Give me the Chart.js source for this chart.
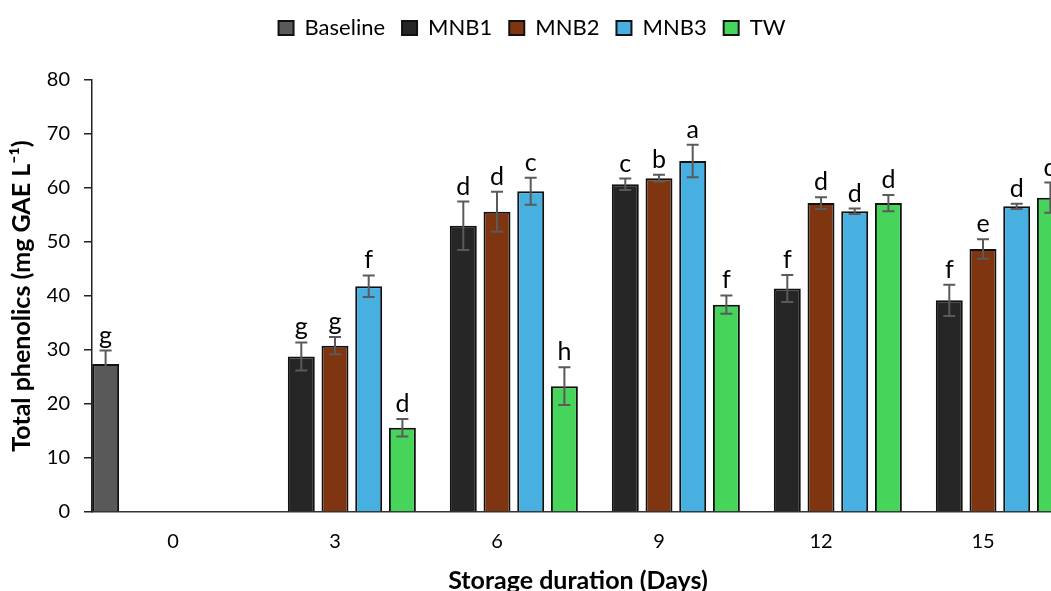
<!DOCTYPE html>
<html>
<head>
<meta charset="utf-8">
<script src="https://cdn.jsdelivr.net/npm/chart.js@4"></script>
<style>
  html, body { margin: 0; padding: 0; background: #fff; overflow: hidden; }
  #wrap { width: 1068px; height: 591px; }
</style>
</head>
<body>
<div id="wrap"><canvas id="phenolics"></canvas></div>
<script>
// Storage days
const days = ['0', '3', '6', '9', '12', '15'];

// Means (mg GAE L-1)
const baseline = [27.4, null, null, null, null, null];
const mnb1 = [null, 28.8, 53.0, 60.7, 41.4, 39.2];
const mnb2 = [null, 30.8, 55.6, 61.8, 57.2, 48.7];
const mnb3 = [null, 41.8, 59.4, 65.0, 55.7, 56.6];
const tw = [null, 15.6, 23.3, 38.4, 57.2, 58.2];

// Standard deviations
const baselineSd = [2.5, null, null, null, null, null];
const mnb1Sd = [null, 2.6, 4.5, 1.05, 2.5, 2.9];
const mnb2Sd = [null, 1.6, 3.7, 0.65, 1.1, 1.8];
const mnb3Sd = [null, 2.0, 2.5, 3.0, 0.5, 0.5];
const twSd = [null, 1.6, 3.5, 1.7, 1.5, 2.8];

// Significance letters
const baselineSig = ['g', null, null, null, null, null];
const mnb1Sig = [null, 'g', 'd', 'c', 'f', 'f'];
const mnb2Sig = [null, 'g', 'd', 'b', 'd', 'e'];
const mnb3Sig = [null, 'f', 'c', 'a', 'd', 'd'];
const twSig = [null, 'd', 'h', 'f', 'd', 'd'];

const yTicks = [0, 10, 20, 30, 40, 50, 60, 70, 80];

function series(label, data, sd, sig, color) {
  return {
    label: label,
    data: data,
    sd: sd,
    sig: sig,
    backgroundColor: color,
    borderColor: '#111',
    borderWidth: 2,
    barPercentage: 0.8,
    categoryPercentage: 1.04
  };
}

// extra room between legend and plot
const legendGap = {
  id: 'legendGap',
  beforeInit(chart) {
    const fit = chart.legend.fit;
    chart.legend.fit = function () {
      fit.bind(chart.legend)();
      this.height += 31;
    };
  }
};

// error bars + letters on top of each bar
const errorBars = {
  id: 'errorBars',
  afterDatasetsDraw(chart) {
    const ctx = chart.ctx;
    const y = chart.scales.y;
    ctx.save();
    chart.data.datasets.forEach((ds, i) => {
      const meta = chart.getDatasetMeta(i);
      meta.data.forEach((bar, j) => {
        const v = ds.data[j];
        if (v == null) return;
        const sd = ds.sd[j] || 0;
        const top = y.getPixelForValue(v + sd);
        const bot = y.getPixelForValue(v - sd);
        ctx.strokeStyle = '#5a5a5a';
        ctx.lineWidth = 2;
        ctx.beginPath();
        ctx.moveTo(bar.x, top); ctx.lineTo(bar.x, bot);
        ctx.moveTo(bar.x - 6, top); ctx.lineTo(bar.x + 6, top);
        ctx.moveTo(bar.x - 6, bot); ctx.lineTo(bar.x + 6, bot);
        ctx.stroke();
        if (ds.sig[j]) {
          ctx.fillStyle = '#000';
          ctx.font = '25px Lato';
          ctx.textAlign = 'center';
          ctx.textBaseline = 'alphabetic';
          ctx.fillText(ds.sig[j], bar.x, top - 7);
        }
      });
    });
    ctx.restore();
  }
};

new Chart(document.getElementById('phenolics'), {
  type: 'bar',
  data: {
    labels: days,
    datasets: [
      series('Baseline', baseline, baselineSd, baselineSig, '#595959'),
      series('MNB1', mnb1, mnb1Sd, mnb1Sig, '#262626'),
      series('MNB2', mnb2, mnb2Sd, mnb2Sig, '#7f3510'),
      series('MNB3', mnb3, mnb3Sd, mnb3Sig, '#47b0e0'),
      series('TW', tw, twSd, twSig, '#46d45b')
    ]
  },
  options: {
    responsive: true,
    maintainAspectRatio: false,
    animation: false,
    layout: { padding: { top: 0, right: 4, left: 0, bottom: -5 } },
    plugins: {
      legend: {
        position: 'top',
        labels: {
          color: '#000',
          font: { family: 'Lato', size: 22 },
          boxWidth: 15,
          boxHeight: 14,
          padding: 17
        }
      },
      tooltip: { enabled: false }
    },
    scales: {
      x: {
        grid: { display: false },
        border: { display: true, color: '#333', width: 1.5 },
        ticks: { color: '#000', font: { family: 'Lato', size: 20 }, padding: 10 },
        title: {
          display: true,
          text: 'Storage duration (Days)',
          color: '#000',
          font: { family: 'Lato', size: 25, weight: 'bold' },
          padding: { top: 2, bottom: 0 }
        }
      },
      y: {
        min: 0,
        max: 80,
        afterBuildTicks(scale) { scale.ticks = yTicks.map(v => ({ value: v })); },
        afterFit(scale) { scale.width = 92; },
        grid: { display: true, drawOnChartArea: false, drawTicks: true, tickLength: 8, color: '#222', lineWidth: 1.5 },
        border: { display: true, color: '#222', width: 1.5 },
        ticks: { color: '#000', font: { family: 'Lato', size: 20 }, padding: 14 },
        title: {
          display: true,
          text: 'Total phenolics (mg GAE L\u207B\u00B9)',
          color: '#000',
          font: { family: 'Lato', size: 25, weight: 'bold' },
          padding: { top: 7, bottom: 0 }
        }
      }
    }
  },
  plugins: [legendGap, errorBars]
});
</script>
</body>
</html>
